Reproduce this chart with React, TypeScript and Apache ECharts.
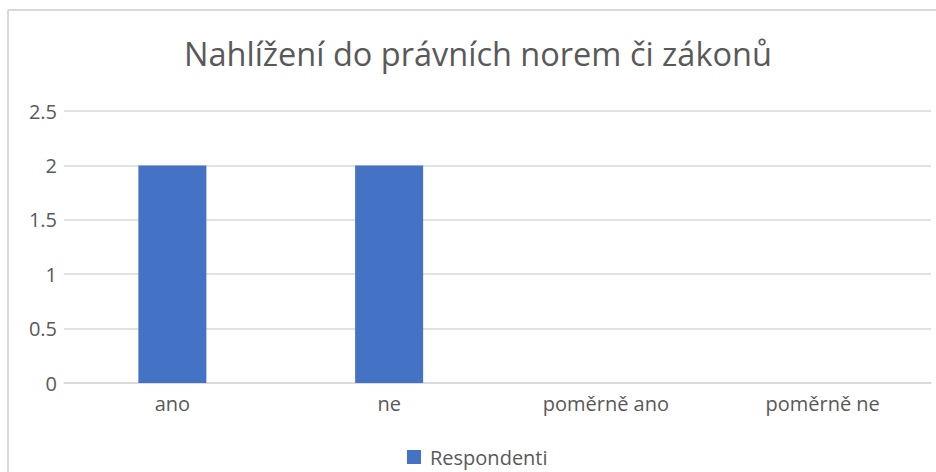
import React, { useEffect, useRef } from "react";
import * as echarts from "echarts";

const categories = ["ano", "ne", "poměrně ano", "poměrně ne"];
const respondenti = [2, 2, 0, 0];
const yTicks = [0, 0.5, 1, 1.5, 2, 2.5];
const titleText = "Nahlížení do právních norem či zákonů";
const seriesName = "Respondenti";

export default function App() {
  const ref = useRef<HTMLDivElement>(null);
  useEffect(() => {
    document.body.style.margin = "0";
    const chart = echarts.init(ref.current!, null, { renderer: "svg" });
    chart.setOption({
      animation: false,
      backgroundColor: "#ffffff",
      title: {
        text: titleText,
        left: 184,
        top: 37,
        itemGap: 0,
        padding: 0,
        textStyle: {
          fontFamily: "Open Sans",
          fontSize: 32.5,
          fontWeight: "normal",
          color: "#595959",
        },
      },
      legend: {
        bottom: 5,
        left: 407,
        padding: 0,
        itemWidth: 14,
        itemHeight: 14,
        icon: "rect",
        textStyle: { fontFamily: "Open Sans", fontSize: 20, color: "#595959", padding: [0, 0, 0, 4] },
        data: [seriesName],
      },
      grid: { left: 64, right: 5, top: 111, bottom: 89, containLabel: false },
      xAxis: {
        type: "category",
        data: categories,
        axisLine: { show: true, lineStyle: { color: "#d9d9d9", width: 1.5 } },
        axisTick: { show: false },
        axisLabel: { fontFamily: "Open Sans", fontSize: 20, color: "#595959", margin: 10 },
      },
      yAxis: {
        type: "value",
        min: yTicks[0],
        max: yTicks[yTicks.length - 1],
        interval: 0.5,
        axisLine: { show: false },
        axisTick: { show: false },
        axisLabel: { fontFamily: "Open Sans", fontSize: 20, color: "#595959", margin: 7 },
        splitLine: { lineStyle: { color: "#d9d9d9", width: 1.5 } },
      },
      series: [
        {
          name: seriesName,
          type: "bar",
          data: respondenti,
          barWidth: 68,
          itemStyle: { color: "#4472C4" },
        },
      ],
      graphic: [
        { type: "line", shape: { x1: 8, y1: 10, x2: 936, y2: 10 }, style: { stroke: "#d9d9d9", lineWidth: 2 } },
        { type: "line", shape: { x1: 8, y1: 10, x2: 8, y2: 472 }, style: { stroke: "#d9d9d9", lineWidth: 2 } },
      ],
    });
    return () => chart.dispose();
  }, []);
  return <div ref={ref} style={{ width: 936, height: 472 }} />;
}
